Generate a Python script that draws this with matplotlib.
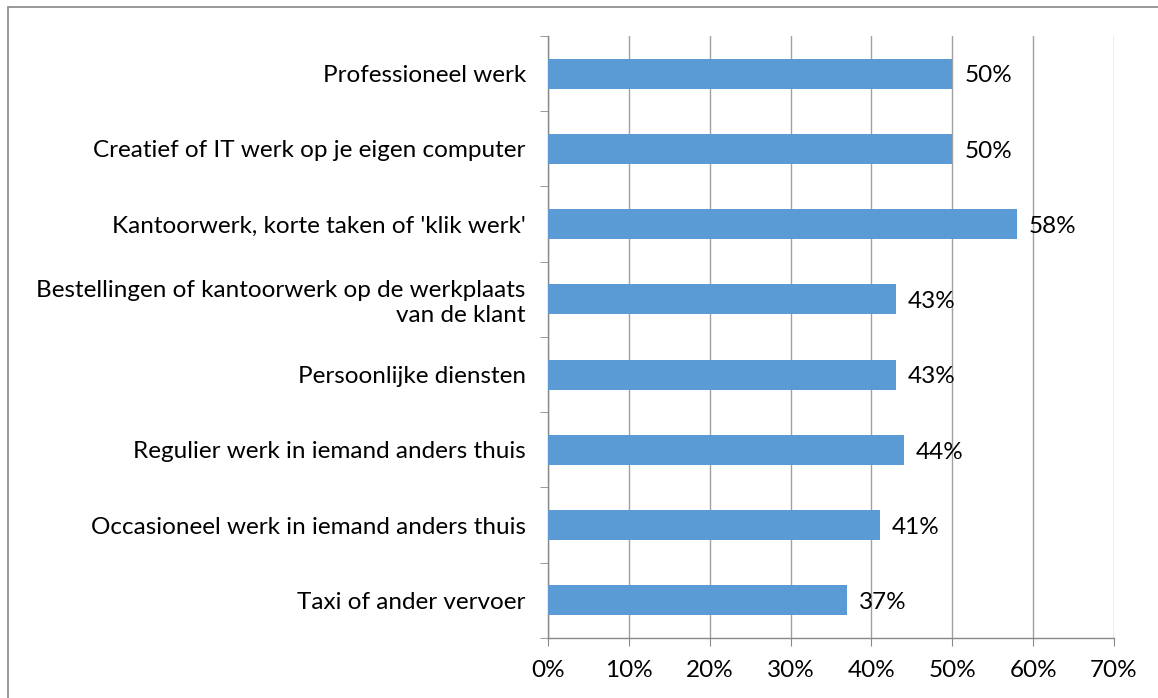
import matplotlib.pyplot as plt
from matplotlib.patches import Rectangle

categories = [
    'Professioneel werk',
    'Creatief of IT werk op je eigen computer',
    "Kantoorwerk, korte taken of 'klik werk'",
    'Bestellingen of kantoorwerk op de werkplaats\nvan de klant',
    'Persoonlijke diensten',
    'Regulier werk in iemand anders thuis',
    'Occasioneel werk in iemand anders thuis',
    'Taxi of ander vervoer',
]
values = [50, 50, 58, 43, 43, 44, 41, 37]
xticks = [0, 10, 20, 30, 40, 50, 60, 70]

plt.rcParams['font.family'] = ['Lato', 'DejaVu Sans']
fs = 17.5
fig = plt.figure(figsize=(11.58, 6.98), dpi=100)
ax = fig.add_axes([548 / 1158, 1 - 638 / 698, (1114 - 548) / 1158, (638 - 36) / 698])

ypos = list(range(len(categories)))
ax.barh(ypos, values, height=0.4, color='#5b9bd5', zorder=3)
for y, v in zip(ypos, values):
    ax.text(v + 1.5, y + 0.03, f'{v}%', va='center', ha='left', fontsize=fs, color='black', zorder=4)

ax.set_ylim(len(categories) - 0.5, -0.5)
ax.set_xlim(0, 70)
ax.set_xticks(xticks)
ax.set_xticklabels([f'{t}%' for t in xticks], fontsize=fs)
ax.set_yticks(ypos)
ax.set_yticklabels(categories, fontsize=fs, ha='right')
for lbl in ax.get_yticklabels():
    lbl.set_multialignment('right')
ax.tick_params(axis='y', length=0, pad=16)
ax.tick_params(axis='x', length=6, color='#888888', pad=10)
# category boundary ticks
ax.set_yticks([i - 0.5 for i in range(len(categories) + 1)], minor=True)
ax.tick_params(axis='y', which='minor', length=6, color='#888888')

ax.grid(axis='x', color='#a0a0a0', linewidth=1, zorder=0)
for s in ['top', 'right']:
    ax.spines[s].set_visible(False)
for s in ['left', 'bottom']:
    ax.spines[s].set_color('#888888')
    ax.spines[s].set_linewidth(1)

# outer chart border (extends past the cropped edges)
fig.patches.append(Rectangle((8 / 1158, -0.1), 1.2, 1 - 7 / 698 + 0.1,
                             transform=fig.transFigure, fill=False,
                             edgecolor='#888888', linewidth=1.2, clip_on=False))

fig.savefig('out.png', dpi=100)
